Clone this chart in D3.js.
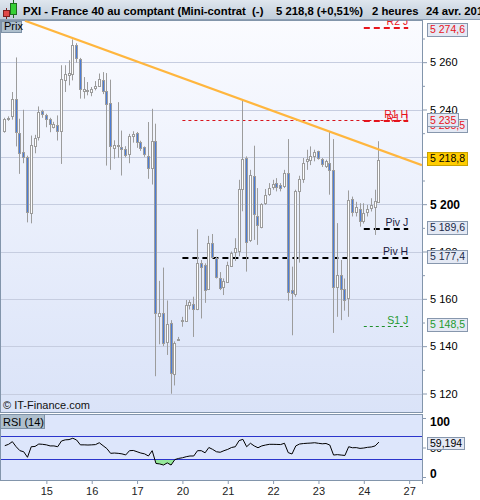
<!DOCTYPE html>
<html>
<head>
<meta charset="utf-8">
<script src="https://cdn.jsdelivr.net/npm/d3@7/dist/d3.min.js"></script>
<style>
html,body{margin:0;padding:0;background:#fff;}
svg{display:block;font-family:"Liberation Sans",Arial,Helvetica,sans-serif;}
</style>
</head>
<body>
<svg id="chart" width="480" height="500"></svg>
<script>
// PXI - France 40 cash (mini contract), 2-hour candles, candle index 0..99
const opens  = [5230.8,5235.8,5237.1,5244.6,5230.2,5221.9,5220.1,5196.1,5224.5,5228.3,
                5239.2,5237.8,5235.8,5232.8,5233.6,5231.1,5252.6,5254.4,5255.2,5267.2,
                5261.5,5247.8,5248.4,5247.4,5249.1,5249.9,5252.6,5247.8,5242.7,5223.8,
                5224.4,5224.1,5223.4,5221.3,5228.7,5230.2,5226.2,5224.1,5220.3,5215.3,
                5226.5,5152.8,5153.9,5141.6,5149.6,5128.4,5142.8,5150.5,5150.7,5157.3,
                5157.9,5155.5,5175.0,5174.3,5164.0,5183.5,5177.1,5168.6,5164.8,5167.2,
                5173.9,5179.9,5180.4,5206.4,5219.5,5184.9,5212.0,5195.2,5190.5,5200.4,
                5204.4,5207.2,5208.9,5208.2,5207.5,5213.1,5163.7,5162.0,5205.4,5210.6,
                5218.1,5218.8,5220.2,5222.3,5219.1,5216.0,5217.4,5214.5,5165.1,5170.1,
                5164.0,5160.2,5202.1,5196.9,5197.9,5192.7,5196.5,5198.3,5199.0,5201.1];
const highs  = [5236.5,5237.1,5247.4,5262.0,5236.1,5239.9,5220.5,5229.0,5229.3,5241.3,
                5239.9,5238.2,5236.5,5234.8,5237.5,5258.7,5258.7,5260.8,5269.6,5268.0,
                5261.8,5253.7,5251.6,5249.5,5252.0,5255.2,5255.8,5255.4,5252.6,5227.0,
                5243.1,5231.1,5224.5,5229.7,5230.8,5230.5,5226.8,5224.4,5234.7,5240.3,
                5234.0,5167.6,5173.2,5159.3,5151.0,5142.0,5143.9,5152.4,5159.5,5159.5,
                5160.9,5189.4,5176.4,5175.0,5186.6,5187.4,5177.8,5171.3,5168.6,5175.7,
                5180.0,5185.6,5210.3,5244.2,5220.2,5214.5,5224.7,5206.8,5200.4,5206.4,
                5208.9,5210.3,5211.0,5208.9,5214.5,5227.5,5173.6,5206.1,5212.0,5219.5,
                5223.0,5224.4,5223.0,5222.6,5219.5,5218.8,5230.8,5227.5,5192.0,5176.4,
                5168.6,5205.8,5203.2,5201.0,5200.4,5200.4,5199.7,5202.5,5206.1,5226.6];
const lows   = [5230.2,5235.2,5235.7,5224.4,5212.8,5217.3,5192.3,5191.9,5221.5,5226.9,
                5236.5,5232.5,5230.4,5232.0,5226.9,5217.0,5247.4,5250.2,5252.3,5259.8,
                5244.6,5244.6,5246.0,5245.6,5248.1,5249.5,5246.5,5216.3,5214.5,5219.2,
                5219.6,5212.1,5219.8,5217.3,5226.0,5223.8,5222.5,5220.0,5210.7,5208.3,
                5127.3,5140.8,5140.0,5136.3,5119.9,5123.4,5142.3,5148.2,5150.3,5155.5,
                5143.9,5155.2,5151.7,5158.3,5163.7,5177.0,5168.6,5163.7,5161.6,5167.0,
                5173.5,5176.0,5178.0,5197.0,5171.5,5184.0,5184.9,5182.8,5189.8,5199.7,
                5203.5,5206.1,5205.4,5205.4,5206.8,5159.2,5144.6,5160.9,5175.3,5209.0,
                5214.5,5216.5,5218.1,5218.8,5215.7,5215.3,5204.0,5145.6,5152.4,5151.0,
                5155.0,5152.4,5194.8,5194.8,5190.5,5191.8,5194.8,5196.9,5187.0,5201.1];
const closes = [5236.1,5236.5,5244.6,5230.4,5221.8,5220.1,5196.5,5225.1,5228.0,5238.9,
                5238.2,5236.1,5233.7,5234.0,5231.1,5253.0,5254.9,5255.6,5267.2,5261.8,
                5248.8,5248.8,5247.8,5248.5,5249.8,5253.0,5247.8,5242.2,5224.4,5225.1,
                5225.0,5223.4,5220.8,5228.6,5229.7,5226.2,5223.6,5221.3,5215.3,5226.5,
                5153.9,5154.2,5141.4,5149.4,5128.7,5141.4,5143.2,5150.9,5157.3,5158.5,
                5155.5,5175.3,5173.6,5163.7,5183.5,5177.8,5169.1,5164.4,5167.7,5174.3,
                5179.2,5181.4,5206.4,5219.1,5184.2,5212.4,5195.9,5191.2,5200.0,5204.0,
                5206.8,5208.5,5207.2,5206.8,5213.1,5163.0,5162.3,5205.4,5210.6,5217.4,
                5219.1,5220.2,5221.9,5219.5,5217.1,5218.1,5214.5,5165.1,5170.1,5164.0,
                5159.7,5201.8,5196.9,5198.7,5192.7,5196.2,5197.9,5199.7,5201.4,5218.8];
const rsi14  = [53.1,55.4,59.9,51.3,44.6,42.8,33.4,51.3,51.8,55.9,
                55.4,54.5,52.7,52.7,51.3,61.0,63.0,63.4,65.7,62.7,
                54.5,54.5,54.2,54.5,54.9,58.1,53.1,48.2,40.1,40.6,
                40.1,39.2,37.4,44.6,45.0,42.8,40.6,39.2,35.6,44.6,
                23.0,22.1,20.3,23.9,20.3,29.5,31.5,32.6,34.4,35.6,
                35.6,44.6,44.6,41.0,50.0,46.8,42.8,41.9,44.6,46.8,
                50.0,51.3,61.7,63.8,51.3,57.2,52.7,49.6,52.7,54.2,
                55.4,55.4,55.2,55.0,57.2,41.3,39.0,52.7,55.9,56.7,
                57.2,57.5,58.1,57.1,56.3,56.8,54.2,37.2,37.9,37.2,
                36.5,51.3,49.6,49.8,48.5,49.1,50.3,50.9,52.7,59.194];

// time axis: first candle of each trading day
const dayTickIndex = [11, 23, 35, 47, 59, 71, 83, 95, 107];
const dayLabels    = ["15", "16", "17", "20", "21", "22", "23", "24", "27"];

const priceTicks      = [5120, 5140, 5160, 5180, 5200, 5220, 5240, 5260];
const priceMinorTicks = [5130, 5150, 5170, 5190, 5210, 5230, 5250, 5270];
const rsiTicks = [0, 50, 100];
const rsiBands = [30, 70];

// pivot levels (J = daily, H = weekly) and the candle span they cover
const levelNames  = ["R2 J", "R1 J", "R1 H", "Piv J", "Piv H", "S1 J"];
const levelValues = [5274.6, 5235, 5235.5, 5189.6, 5177.4, 5148.5];
const levelFrom   = [95, 95, 47, 95, 47, 95];
const levelTo     = [106.75, 106.75, 106.75, 106.75, 106.75, 106.75];

// resistance trend line anchors (candle index, price)
const trendIndex = [5.34, 110.4];
const trendPrice = [5277.5, 5216.5];

const changePct = 0.51;

// ---------------------------------------------------------------------
const svg = d3.select("#chart");
const W = 480, H = 500;
const PL = 0, PR = 422, MT = 20, MB = 412, RT = 414, RB = 480;
const FONT = '"Liberation Sans",Arial,Helvetica,sans-serif';

const fr = d3.formatLocale({decimal: ",", thousands: " ", grouping: [3], currency: ["", ""]});
const fmtInt = fr.format(",d"), fmt1 = fr.format(",.1f"), fmt3 = fr.format(",.3f");
const fmtLevel = v => Number.isInteger(v) ? fmtInt(v) : fmt1(v);

const idx = d3.range(closes.length);
const x  = d3.scaleLinear().domain([-1.27, 110.4]).range([PL, PR]);
const y  = d3.scaleLinear().domain([5120, 5240]).range([393.5, 109.5]);
const yR = d3.scaleLinear().domain([0, 100]).range([477, 418]);

const defs = svg.append("defs");
const gTitle = defs.append("linearGradient").attr("id", "gTitle").attr("x1", 0).attr("x2", 0).attr("y1", 0).attr("y2", 1);
gTitle.append("stop").attr("offset", 0).attr("stop-color", "#dfe6ee");
gTitle.append("stop").attr("offset", 1).attr("stop-color", "#bfccd9");
const gMain = defs.append("linearGradient").attr("id", "gMain").attr("x1", 0).attr("x2", 0).attr("y1", 0).attr("y2", 1);
gMain.append("stop").attr("offset", 0).attr("stop-color", "#fafbff");
gMain.append("stop").attr("offset", 1).attr("stop-color", "#dae3f8");
defs.append("clipPath").attr("id", "clipMain").append("rect")
  .attr("x", PL + 1).attr("y", MT + 0.5).attr("width", PR - PL - 1).attr("height", MB - MT - 0.5);
defs.append("clipPath").attr("id", "clipRsi").append("rect")
  .attr("x", PL + 1).attr("y", RT).attr("width", PR - PL - 1).attr("height", RB - RT);
defs.append("clipPath").attr("id", "clipOversold").append("rect")
  .attr("x", PL + 1).attr("y", yR(30)).attr("width", PR - PL - 1).attr("height", RB - yR(30));

svg.append("rect").attr("width", W).attr("height", H).attr("fill", "#fff");

// ---- panels
svg.append("rect").attr("x", PL + 0.5).attr("y", MT + 0.5).attr("width", PR - PL).attr("height", MB - MT)
  .attr("fill", "url(#gMain)").attr("stroke", "#8295ab");
svg.append("rect").attr("x", PL + 0.5).attr("y", RT + 0.5).attr("width", PR - PL).attr("height", RB - RT)
  .attr("fill", "#dde6fb").attr("stroke", "#8295ab");

// ---- price grid
svg.append("g").selectAll("line").data(priceTicks).join("line")
  .attr("x1", PL + 1).attr("x2", PR)
  .attr("y1", d => Math.round(y(d)) + 0.5).attr("y2", d => Math.round(y(d)) + 0.5)
  .attr("stroke", "#c6cde0").attr("shape-rendering", "crispEdges");

// ---- pivot levels
const levelStyle = {
  "R2 J":  {stroke: "#e8141c", width: 2, dash: "6,4", text: "#e8141c", tag: "#e8141c"},
  "R1 J":  {stroke: "#e8141c", width: 2, dash: "6,4", text: "#e8141c", tag: "#e8141c"},
  "R1 H":  {stroke: "#d8141c", width: 1, dash: "3,3", text: "#e8141c", tag: "#e8141c"},
  "Piv J": {stroke: "#000000", width: 2, dash: "6,4", text: "#1a1a40", tag: "#1b2a48"},
  "Piv H": {stroke: "#000000", width: 2, dash: "6,4", text: "#1a1a40", tag: "#1b2a48"},
  "S1 J":  {stroke: "#1f8f2a", width: 1, dash: "3,3", text: "#229a2e", tag: "#229a2e"}
};
const gLev = svg.append("g").attr("clip-path", "url(#clipMain)");
const levelLabels = [];
levelNames.forEach((name, k) => {
  const st = levelStyle[name];
  const ly = Math.round(y(levelValues[k])) + (st.width === 1 ? 0.5 : 0);
  gLev.append("line")
    .attr("x1", x(levelFrom[k])).attr("x2", x(levelTo[k]))
    .attr("y1", ly).attr("y2", ly)
    .attr("stroke", st.stroke).attr("stroke-width", st.width).attr("stroke-dasharray", st.dash);
  levelLabels.push({name, v: levelValues[k], end: x(levelTo[k]), base: ly - 3, color: st.text});
});
// labels sitting on nearly the same level are staggered downwards
levelLabels.sort((a, b) => b.v - a.v);
levelLabels.forEach((l, k) => {
  if (k > 0 && Math.abs(l.base - levelLabels[k - 1].base) < 4) l.base = levelLabels[k - 1].base + 4;
  gLev.append("text")
    .attr("x", l.end).attr("y", l.base)
    .attr("text-anchor", "end").attr("font-size", 10.5).attr("fill", l.color)
    .text(l.name);
});

// ---- candles
const gC = svg.append("g").attr("clip-path", "url(#clipMain)");
const candles = idx.map(i => ({i, o: opens[i], h: highs[i], l: lows[i], c: closes[i]}));
gC.selectAll("line").data(candles).join("line")
  .attr("x1", d => Math.floor(x(d.i)) + 0.5).attr("x2", d => Math.floor(x(d.i)) + 0.5)
  .attr("y1", d => y(d.h)).attr("y2", d => y(d.l))
  .attr("stroke", "#9c9c9c");
gC.selectAll("rect").data(candles).join("rect")
  .attr("x", d => Math.floor(x(d.i)) - 0.5)
  .attr("y", d => Math.round(y(Math.max(d.o, d.c))) + 0.5)
  .attr("width", 2)
  .attr("height", d => Math.max(1, Math.round(y(Math.min(d.o, d.c))) - Math.round(y(Math.max(d.o, d.c)))))
  .attr("fill", d => d.c >= d.o ? "#ffffff" : "#4a7cd8")
  .attr("stroke", "#9c9c9c");

// ---- trend line
svg.append("g").attr("clip-path", "url(#clipMain)").append("path")
  .datum(trendIndex.map((t, k) => [t, trendPrice[k]]))
  .attr("d", d3.line().x(d => x(d[0])).y(d => y(d[1])))
  .attr("fill", "none").attr("stroke", "#ffb63e").attr("stroke-width", 2.2);

// ---- RSI panel
const gR = svg.append("g").attr("clip-path", "url(#clipRsi)");
gR.append("path").datum(idx)
  .attr("clip-path", "url(#clipOversold)")
  .attr("d", d3.area().x(i => x(i)).y0(yR(30)).y1(i => yR(rsi14[i])))
  .attr("fill", "#94e89a");
gR.selectAll("line.band").data(rsiBands).join("line").attr("class", "band")
  .attr("x1", PL + 1).attr("x2", PR)
  .attr("y1", d => Math.round(yR(d)) + 0.5).attr("y2", d => Math.round(yR(d)) + 0.5)
  .attr("stroke", "#2b35cc");
gR.append("path").datum(idx)
  .attr("d", d3.line().x(i => x(i)).y(i => yR(rsi14[i])))
  .attr("fill", "none").attr("stroke", "#000").attr("stroke-width", 1);

// ---- axes
const styleAxis = (g) => {
  g.select(".domain").remove();
  g.selectAll("line").attr("stroke", "#8a9ab0");
  g.selectAll("text").attr("font-family", FONT).attr("fill", "#000");
};
const gy = svg.append("g").attr("transform", `translate(${PR},0)`)
  .call(d3.axisRight(y).tickValues(priceTicks).tickSize(5).tickPadding(3).tickFormat(fmtInt));
styleAxis(gy);
gy.selectAll("text")
  .attr("font-size", d => d % 100 === 0 ? 12 : 11)
  .attr("font-weight", d => d % 100 === 0 ? "bold" : "normal");
const gym = svg.append("g").attr("transform", `translate(${PR},0)`)
  .call(d3.axisRight(y).tickValues(priceMinorTicks).tickSize(3).tickFormat(""));
styleAxis(gym);

const gyr = svg.append("g").attr("transform", `translate(${PR},0)`)
  .call(d3.axisRight(yR).tickValues(rsiTicks).tickSize(4).tickPadding(4).tickFormat(d3.format("d")));
styleAxis(gyr);
gyr.selectAll("text")
  .attr("font-size", d => d === 50 ? 11 : 12)
  .attr("font-weight", d => d === 50 ? "normal" : "bold")
  .attr("dy", d => d === 100 ? "0.62em" : d === 0 ? "0.05em" : "0.32em");

const gx = svg.append("g").attr("transform", `translate(0,${RB})`)
  .call(d3.axisBottom(x).tickValues(dayTickIndex).tickSize(4).tickPadding(3)
    .tickFormat((d, k) => dayLabels[k]));
styleAxis(gx);
gx.selectAll("text").attr("font-size", 11).attr("fill", "#222");
svg.append("line").attr("x1", PR + 0.5).attr("x2", PR + 0.5).attr("y1", RB).attr("y2", RB + 4).attr("stroke", "#8a9ab0");

// ---- value tags on the price scale
function tag(cy, text, color, bg, border, size, h) {
  const g = svg.append("g");
  const r = g.append("rect");
  const t = g.append("text").attr("x", PR + 8).attr("y", cy).attr("dy", "0.35em")
    .attr("font-size", size).attr("fill", color).text(text);
  const w = t.node().getComputedTextLength();
  const top = Math.round(cy - h / 2) + 0.5;
  r.attr("x", PR + 5.5).attr("y", top).attr("width", Math.round(w) + 5).attr("height", h)
    .attr("fill", bg).attr("stroke", border);
}
const tags = levelNames.map((name, k) => ({
  v: levelValues[k], text: fmtLevel(levelValues[k]), color: levelStyle[name].tag
}));
tags.forEach(t => { t.cy = Math.max(y(t.v) - 1.5, MT + 9.5); t.behind = false; });
tags.forEach((t, k) => {
  for (let j = 0; j < k; j++) {
    if (!tags[j].behind && Math.abs(tags[j].cy - t.cy) < 8) { t.cy = tags[j].cy + 5.5; t.behind = true; }
  }
});
const lastClose = closes[closes.length - 1];
tags.filter(t => t.behind).forEach(t => tag(t.cy, t.text, t.color, "#e4e9f4", "#8797ad", 10.5, 13));
tags.filter(t => !t.behind).forEach(t => tag(t.cy, t.text, t.color, "#e4e9f4", "#8797ad", 10.5, 13));
tag(y(lastClose) - 1, fmt1(lastClose), "#000", "#ffcc00", "#c9a200", 10.5, 13);
tag(yR(rsi14[rsi14.length - 1]) + 1, fmt3(rsi14[rsi14.length - 1]), "#000", "#e4e9f4", "#8797ad", 10.5, 12);

// ---- panel captions
const cap = (xx, yy, w, h, label) => {
  svg.append("rect").attr("x", xx + 0.5).attr("y", yy + 0.5).attr("width", w).attr("height", h)
    .attr("fill", "#aebfcd").attr("stroke", "#7e92a7");
  svg.append("text").attr("x", xx + 3).attr("y", yy + h - 2.5).attr("font-size", 11).attr("fill", "#000").text(label);
};
cap(1, 21, 20, 11, "Prix");
cap(0, 414, 44, 14, "RSI (14)");
svg.append("text").attr("x", 3).attr("y", 409).attr("font-size", 11).attr("fill", "#111").text("\u00a9 IT-Finance.com");

// ---- title bar
svg.append("rect").attr("x", 0).attr("y", 0).attr("width", W).attr("height", 20).attr("fill", "url(#gTitle)");
svg.append("line").attr("x1", 0).attr("x2", W).attr("y1", 19.5).attr("y2", 19.5).attr("stroke", "#8e9fb3");
const icon = svg.append("g");
icon.append("line").attr("x1", 6.5).attr("x2", 6.5).attr("y1", 8).attr("y2", 19).attr("stroke", "#7a2020");
icon.append("rect").attr("x", 3.5).attr("y", 10.5).attr("width", 6).attr("height", 6).attr("fill", "#e04848").attr("stroke", "#7a2020");
icon.append("line").attr("x1", 13.5).attr("x2", 13.5).attr("y1", 0).attr("y2", 18).attr("stroke", "#1f6a1f");
icon.append("rect").attr("x", 10.5).attr("y", 3.5).attr("width", 6).attr("height", 11).attr("fill", "#35d035").attr("stroke", "#1f6a1f");
const title = svg.append("g").attr("font-size", 11.3).attr("font-weight", "bold").attr("fill", "#000");
title.append("text").attr("x", 23).attr("y", 15).text("PXI - France 40 au comptant (Mini-contrat \u00a0(-)");
title.append("text").attr("x", 276).attr("y", 15)
  .text(`${fmt1(lastClose)} (${changePct >= 0 ? "+" : ""}${fr.format(".2f")(changePct)}%)`);
title.append("text").attr("x", 372).attr("y", 15).text("2 heures");
title.append("text").attr("x", 426).attr("y", 15).text("24 avr. 2019");
</script>
</body>
</html>
